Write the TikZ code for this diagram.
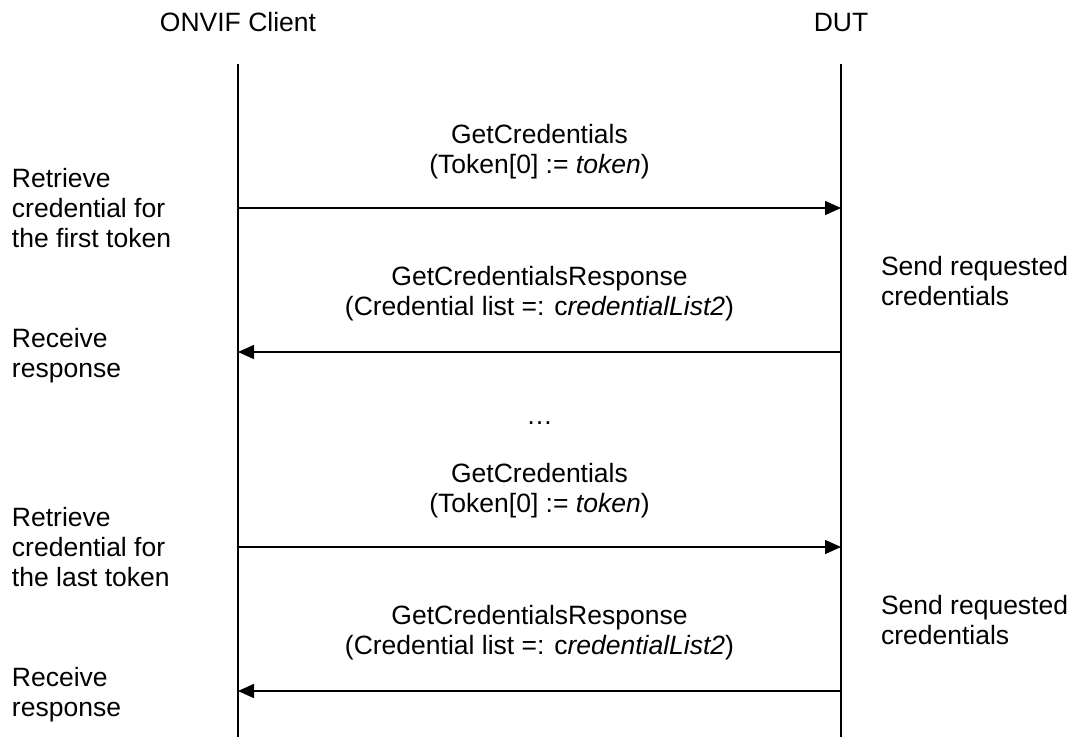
\documentclass[tikz,border=0pt]{standalone}
\usepackage{fontspec}
\setmainfont{Liberation Sans}
\usetikzlibrary{arrows.meta}
\tikzset{
  txt/.style={font=\fontsize{26.5}{30}\selectfont, inner sep=0pt, outer sep=0pt},
  lefttxt/.style={txt, anchor=base west, align=left},
  midtxt/.style={txt, anchor=base, align=center},
  lifeline/.style={line width=1.6pt, black},
  msg/.style={line width=1.6pt, black, -{Triangle[length=16pt,width=14pt]}}
}
\begin{document}
\begin{tikzpicture}[x=1pt,y=-1pt]
\useasboundingbox (0,0) rectangle (1074,737);
% headers
\node[midtxt] (client) at (238,31.5) {ONVIF Client};
\node[midtxt] (dut) at (841,31.5) {DUT};
% lifelines
\coordinate (ctop) at (238,64);
\coordinate (cbot) at (238,737);
\coordinate (dtop) at (841,64);
\coordinate (dbot) at (841,737);
\draw[lifeline] (ctop) -- (cbot);
\draw[lifeline] (dtop) -- (dbot);
% arrow end points
\coordinate (c1) at (238,208); \coordinate (d1) at (841,208);
\coordinate (c2) at (238,352); \coordinate (d2) at (841,352);
\coordinate (c3) at (238,547); \coordinate (d3) at (841,547);
\coordinate (c4) at (238,691); \coordinate (d4) at (841,691);
% block 1 (positions are baselines of the last line)
\node[midtxt] (m1) at (539.5,173) {GetCredentials\\(Token[0] := \textit{token})};
\node[lefttxt] (l1) at (12,247) {Retrieve\\credential for\\the first token};
\draw[msg] (c1) -- (d1);
\node[midtxt] (m2) at (539.5,315) {GetCredentialsResponse\\(Credential list =: c\textit{redentialList2})};
\node[lefttxt] (r1) at (881,305) {Send requested\\credentials};
\node[lefttxt] (l2) at (12,377) {Receive\\response};
\draw[msg] (d2) -- (c2);
% ellipsis
\node[midtxt] (dots) at (539.5,424) {…};
% block 2
\node[midtxt] (m3) at (539.5,512) {GetCredentials\\(Token[0] := \textit{token})};
\node[lefttxt] (l3) at (12,586) {Retrieve\\credential for\\the last token};
\draw[msg] (c3) -- (d3);
\node[midtxt] (m4) at (539.5,654) {GetCredentialsResponse\\(Credential list =: c\textit{redentialList2})};
\node[lefttxt] (r2) at (881,644) {Send requested\\credentials};
\node[lefttxt] (l4) at (12,716) {Receive\\response};
\draw[msg] (d4) -- (c4);
\end{tikzpicture}
\end{document}
